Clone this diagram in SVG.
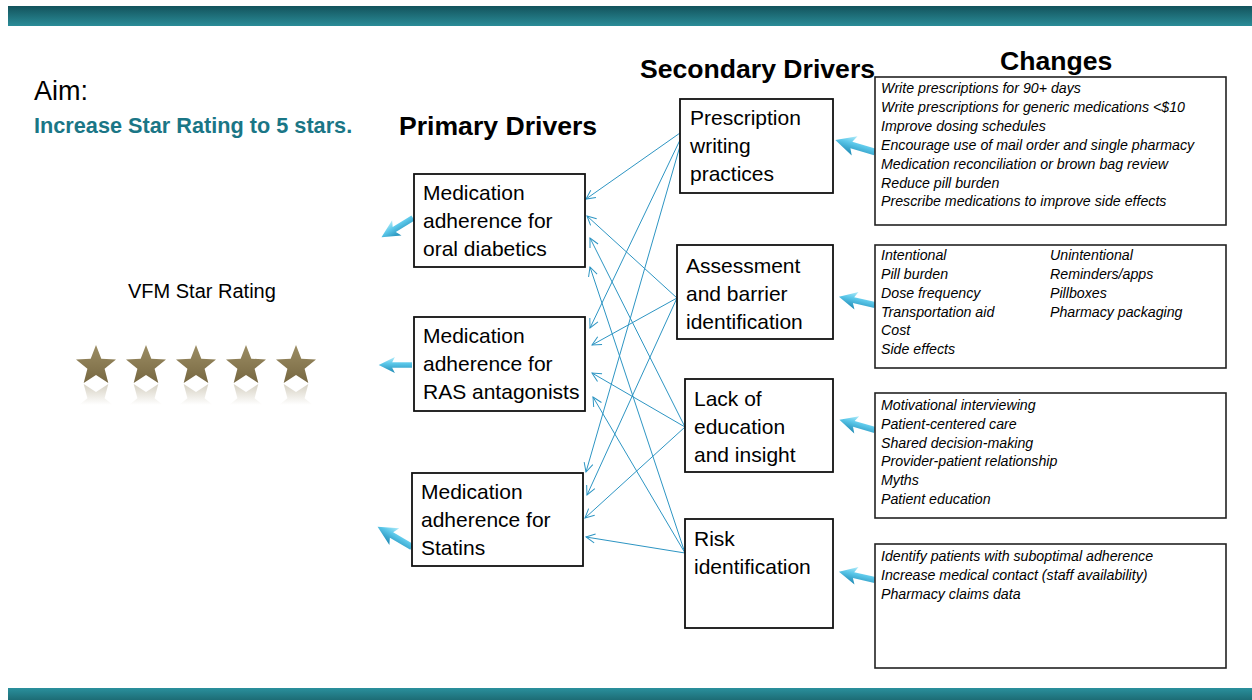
<svg xmlns="http://www.w3.org/2000/svg" xmlns:xlink="http://www.w3.org/1999/xlink" width="1252" height="700" viewBox="0 0 1252 700">
  <style>
    .box { fill: #ffffff; stroke: #111111; stroke-width: 1.8; }
    .cbox { fill: #ffffff; stroke: #222222; stroke-width: 1.6; }
    .head { font-family: "Liberation Sans", Arial, sans-serif; font-weight: bold; font-size: 26.6px; fill: #000000; }
    .node { font-family: "Liberation Sans", Arial, sans-serif; font-size: 21px; fill: #000000; }
    .chg { font-family: "Liberation Sans", Arial, sans-serif; font-style: italic; font-size: 14.2px; fill: #000000; }
    .link { fill: none; stroke: #2d95c3; stroke-width: 1; marker-end: url(#openHead); }
  </style>
  <defs>
    <linearGradient id="topBar" x1="0" y1="0" x2="0" y2="1">
      <stop offset="0" stop-color="#13535c"/>
      <stop offset="1" stop-color="#2a8c98"/>
    </linearGradient>
    <linearGradient id="bottomBar" x1="0" y1="0" x2="0" y2="1">
      <stop offset="0" stop-color="#2a909d"/>
      <stop offset="1" stop-color="#1d6c75"/>
    </linearGradient>
    <linearGradient id="cyanArrow" x1="0" y1="0" x2="0" y2="1">
      <stop offset="0" stop-color="#b4ecf9"/>
      <stop offset="0.4" stop-color="#5cc8ea"/>
      <stop offset="1" stop-color="#1c88b3"/>
    </linearGradient>
    <linearGradient id="starFill" x1="0" y1="0" x2="0" y2="1">
      <stop offset="0" stop-color="#9c8d63"/>
      <stop offset="1" stop-color="#776842"/>
    </linearGradient>
    <!-- mirrored star: local bottom (y=1) sits at the top on screen -->
    <linearGradient id="starShine" x1="0" y1="1" x2="0" y2="0.45">
      <stop offset="0" stop-color="#8a7b52" stop-opacity="0.35"/>
      <stop offset="1" stop-color="#8a7b52" stop-opacity="0"/>
    </linearGradient>
    <!-- five-pointed star, centred on the origin -->
    <path id="star" d="M0,-21 L5.3,-7.3 L20,-6.5 L8.6,2.8 L12.3,17 L0,9 L-12.3,17 L-8.6,2.8 L-20,-6.5 L-5.3,-7.3 Z"/>
    <!-- chunky pointer, tail at origin, tip towards -x -->
    <polygon id="fatArrow" points="0,-3 -22,-3 -19,-9 -37,0 -19,9 -22,3 0,3"/>
    <marker id="openHead" markerWidth="12" markerHeight="12" refX="10" refY="6" orient="auto" markerUnits="userSpaceOnUse">
      <path d="M1,1.5 L10,6 L1,10.5" fill="none" stroke="#2d95c3" stroke-width="1"/>
    </marker>
  </defs>

  <!-- title bars -->
  <rect x="8" y="6" width="1244" height="20" fill="url(#topBar)"/>
  <rect x="8" y="688" width="1244" height="12" fill="url(#bottomBar)"/>

  <!-- aim -->
  <g id="aim">
    <text x="34" y="100" font-family="Liberation Sans, Arial, sans-serif" font-size="27" fill="#000">Aim:</text>
    <text x="34" y="133" font-family="Liberation Sans, Arial, sans-serif" font-size="21.7" font-weight="bold" fill="#1a7686">Increase Star Rating to 5 stars.</text>
  </g>

  <!-- rating -->
  <g id="rating">
    <text x="128" y="298" font-family="Liberation Sans, Arial, sans-serif" font-size="20" fill="#000">VFM Star Rating</text>
    <g fill="url(#starFill)">
      <use xlink:href="#star" transform="translate(96,366)"/>
      <use xlink:href="#star" transform="translate(146,366)"/>
      <use xlink:href="#star" transform="translate(196,366)"/>
      <use xlink:href="#star" transform="translate(246,366)"/>
      <use xlink:href="#star" transform="translate(296,366)"/>
    </g>
    <g fill="url(#starShine)">
      <use xlink:href="#star" transform="translate(96,401) scale(1,-1)"/>
      <use xlink:href="#star" transform="translate(146,401) scale(1,-1)"/>
      <use xlink:href="#star" transform="translate(196,401) scale(1,-1)"/>
      <use xlink:href="#star" transform="translate(246,401) scale(1,-1)"/>
      <use xlink:href="#star" transform="translate(296,401) scale(1,-1)"/>
    </g>
  </g>

  <!-- column headings -->
  <text class="head" x="399" y="135">Primary Drivers</text>
  <text class="head" x="640" y="78">Secondary Drivers</text>
  <text class="head" x="1000" y="70">Changes</text>

  <!-- connectors: each secondary driver feeds every primary driver -->
  <g id="connectors">
    <line class="link" x1="680" y1="133" x2="586" y2="199"/>
    <line class="link" x1="680" y1="140" x2="590" y2="328"/>
    <line class="link" x1="680" y1="146" x2="586" y2="472"/>
    <line class="link" x1="677" y1="298" x2="587" y2="216"/>
    <line class="link" x1="677" y1="298" x2="592" y2="345"/>
    <line class="link" x1="677" y1="298" x2="587" y2="495"/>
    <line class="link" x1="685" y1="427" x2="590" y2="238"/>
    <line class="link" x1="685" y1="427" x2="592" y2="373"/>
    <line class="link" x1="685" y1="427" x2="585" y2="518"/>
    <line class="link" x1="685" y1="553" x2="590" y2="267"/>
    <line class="link" x1="685" y1="553" x2="593" y2="397"/>
    <line class="link" x1="685" y1="553" x2="586" y2="537"/>

    <!-- outcome pointers -->
    <g fill="url(#cyanArrow)">
      <use xlink:href="#fatArrow" transform="translate(875,152) rotate(16.7) scale(1.12)"/>
      <use xlink:href="#fatArrow" transform="translate(875,305) rotate(12.9)"/>
      <use xlink:href="#fatArrow" transform="translate(875,430) rotate(15.9)"/>
      <use xlink:href="#fatArrow" transform="translate(875,580) rotate(12.9)"/>
      <use xlink:href="#fatArrow" transform="translate(413,218) rotate(-31.5)"/>
      <use xlink:href="#fatArrow" transform="translate(412,365) scale(0.9)"/>
      <use xlink:href="#fatArrow" transform="translate(412,547) rotate(30.5) scale(1.08)"/>
    </g>
  </g>

  <!-- primary drivers -->
  <g id="primary-diabetics">
    <rect class="box" x="414" y="174" width="171" height="93"/>
    <text class="node" x="423" y="200">Medication</text>
    <text class="node" x="423" y="228">adherence for</text>
    <text class="node" x="423" y="256">oral diabetics</text>
  </g>
  <g id="primary-ras">
    <rect class="box" x="414" y="317" width="171" height="94"/>
    <text class="node" x="423" y="343">Medication</text>
    <text class="node" x="423" y="371">adherence for</text>
    <text class="node" x="423" y="399">RAS antagonists</text>
  </g>
  <g id="primary-statins">
    <rect class="box" x="412" y="473" width="171" height="93"/>
    <text class="node" x="421" y="499">Medication</text>
    <text class="node" x="421" y="527">adherence for</text>
    <text class="node" x="421" y="555">Statins</text>
  </g>

  <!-- secondary drivers -->
  <g id="secondary-prescription">
    <rect class="box" x="680" y="99" width="153" height="94"/>
    <text class="node" x="690" y="125">Prescription</text>
    <text class="node" x="690" y="153">writing</text>
    <text class="node" x="690" y="181">practices</text>
  </g>
  <g id="secondary-assessment">
    <rect class="box" x="677" y="245" width="156" height="94"/>
    <text class="node" x="686" y="273">Assessment</text>
    <text class="node" x="686" y="301">and barrier</text>
    <text class="node" x="686" y="329">identification</text>
  </g>
  <g id="secondary-education">
    <rect class="box" x="685" y="379" width="148" height="93"/>
    <text class="node" x="694" y="406">Lack of</text>
    <text class="node" x="694" y="434">education</text>
    <text class="node" x="694" y="462">and insight</text>
  </g>
  <g id="secondary-risk">
    <rect class="box" x="685" y="519" width="148" height="109"/>
    <text class="node" x="694" y="546">Risk</text>
    <text class="node" x="694" y="574">identification</text>
  </g>

  <!-- changes -->
  <g id="changes-prescription">
    <rect class="cbox" x="875" y="77" width="351" height="148"/>
    <text class="chg" x="881" y="93">Write prescriptions for 90+ days</text>
    <text class="chg" x="881" y="112">Write prescriptions for generic medications &lt;$10</text>
    <text class="chg" x="881" y="131">Improve dosing schedules</text>
    <text class="chg" x="881" y="150">Encourage use of mail order and single pharmacy</text>
    <text class="chg" x="881" y="169">Medication reconciliation or brown bag review</text>
    <text class="chg" x="881" y="188">Reduce pill burden</text>
    <text class="chg" x="881" y="206">Prescribe medications to improve side effects</text>
  </g>
  <g id="changes-assessment">
    <rect class="cbox" x="875" y="245" width="351" height="123"/>
    <text class="chg" x="881" y="260">Intentional</text>
    <text class="chg" x="881" y="279">Pill burden</text>
    <text class="chg" x="881" y="298">Dose frequency</text>
    <text class="chg" x="881" y="317">Transportation aid</text>
    <text class="chg" x="881" y="335">Cost</text>
    <text class="chg" x="881" y="354">Side effects</text>
    <text class="chg" x="1050" y="260">Unintentional</text>
    <text class="chg" x="1050" y="279">Reminders/apps</text>
    <text class="chg" x="1050" y="298">Pillboxes</text>
    <text class="chg" x="1050" y="317">Pharmacy packaging</text>
  </g>
  <g id="changes-education">
    <rect class="cbox" x="875" y="393" width="351" height="125"/>
    <text class="chg" x="881" y="410">Motivational interviewing</text>
    <text class="chg" x="881" y="429">Patient-centered care</text>
    <text class="chg" x="881" y="448">Shared decision-making</text>
    <text class="chg" x="881" y="466">Provider-patient relationship</text>
    <text class="chg" x="881" y="485">Myths</text>
    <text class="chg" x="881" y="504">Patient education</text>
  </g>
  <g id="changes-risk">
    <rect class="cbox" x="875" y="544" width="351" height="124"/>
    <text class="chg" x="881" y="561">Identify patients with suboptimal adherence</text>
    <text class="chg" x="881" y="580">Increase medical contact (staff availability)</text>
    <text class="chg" x="881" y="599">Pharmacy claims data</text>
  </g>
</svg>
